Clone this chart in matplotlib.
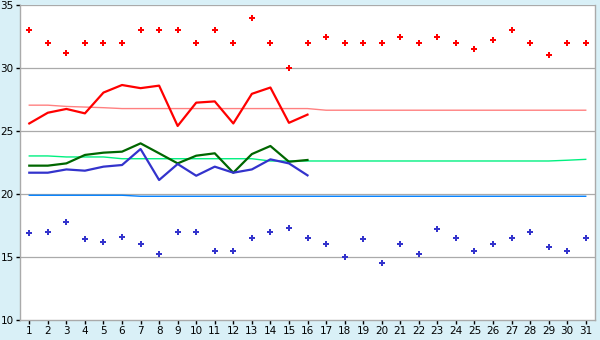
import matplotlib
matplotlib.use("Agg")
import matplotlib.pyplot as plt

# ── Data ──────────────────────────────────────────────────────────────
days = list(range(1, 32))
obs_days = list(range(1, 17))

max_points = [33, 32, 31.2, 32, 32, 32, 33, 33, 33, 32, 33, 32, 34, 32, 30, 32,
              32.5, 32, 32, 32, 32.5, 32, 32.5, 32, 31.5, 32.2, 33, 32, 31, 32, 32]
min_points = [16.9, 17.0, 17.8, 16.4, 16.2, 16.6, 16.0, 15.2, 17.0, 17.0, 15.5,
              15.5, 16.5, 17.0, 17.3, 16.5, 16.0, 15.0, 16.4, 14.5, 16.0, 15.2,
              17.2, 16.5, 15.5, 16.0, 16.5, 17.0, 15.8, 15.5, 16.5]

max_line = [25.6, 26.45, 26.75, 26.4, 28.05, 28.65, 28.4, 28.6, 25.4, 27.25,
            27.35, 25.6, 27.95, 28.45, 25.65, 26.3]
mean_line = [22.25, 22.25, 22.43, 23.1, 23.28, 23.36, 24.02, 23.23, 22.43, 23.04,
             23.23, 21.69, 23.17, 23.81, 22.56, 22.7]
min_line = [21.69, 21.69, 21.95, 21.85, 22.17, 22.3, 23.57, 21.11, 22.38, 21.45,
            22.17, 21.69, 21.95, 22.75, 22.43, 21.48]

normal_max = [27.05, 27.05, 26.95, 26.9, 26.85] + [26.78] * 11 + [26.65] * 15
normal_mean = [23.02, 23.02, 22.94, 22.94, 22.94] + [22.8] * 8 + [22.62] * 16 + [22.68, 22.75]
normal_min = [19.9] * 6 + [19.82] * 25

y_ticks = [10, 15, 20, 25, 30, 35]

# ── Plot ──────────────────────────────────────────────────────────────
bg = "#d9f0f7"
grid_c = "#aaaaaa"

fig = plt.figure(figsize=(6, 3.4), dpi=100, facecolor=bg)
ax = fig.add_axes([20 / 600, 20 / 340, 575 / 600, 315 / 340])
ax.set_facecolor("white")

for y in y_ticks[1:]:
    ax.axhline(y, color=grid_c, lw=0.9, zorder=1)

ax.plot(days, normal_max, color="#ff8080", lw=1.0, zorder=2)
ax.plot(days, normal_mean, color="#00f080", lw=1.0, zorder=2)
ax.plot(days, normal_min, color="#0080ff", lw=1.0, zorder=2)

ax.plot(obs_days, max_line, color="#ff0000", lw=1.6, zorder=3)
ax.plot(obs_days, mean_line, color="#006600", lw=1.6, zorder=3)
ax.plot(obs_days, min_line, color="#3333cc", lw=1.6, zorder=3)

ax.plot(days, max_points, ls="none", marker="P", ms=4.5, color="#ff0000",
        mec="#ff0000", mew=0, zorder=4)
ax.plot(days, min_points, ls="none", marker="P", ms=4.5, color="#3333cc",
        mec="#3333cc", mew=0, zorder=4)

ax.set_xlim(0.5, 31.5)
ax.set_ylim(10, 35)
ax.set_xticks(days)
ax.set_yticks(y_ticks)
ax.tick_params(axis="both", length=3, width=1, color="black", labelsize=7.5,
               labelcolor="black", pad=1.5)

for side in ("left", "bottom", "right"):
    ax.spines[side].set_color(grid_c)
    ax.spines[side].set_linewidth(1.0)
ax.spines["top"].set_visible(False)

fig.savefig("out.png", dpi=100, facecolor=bg)
